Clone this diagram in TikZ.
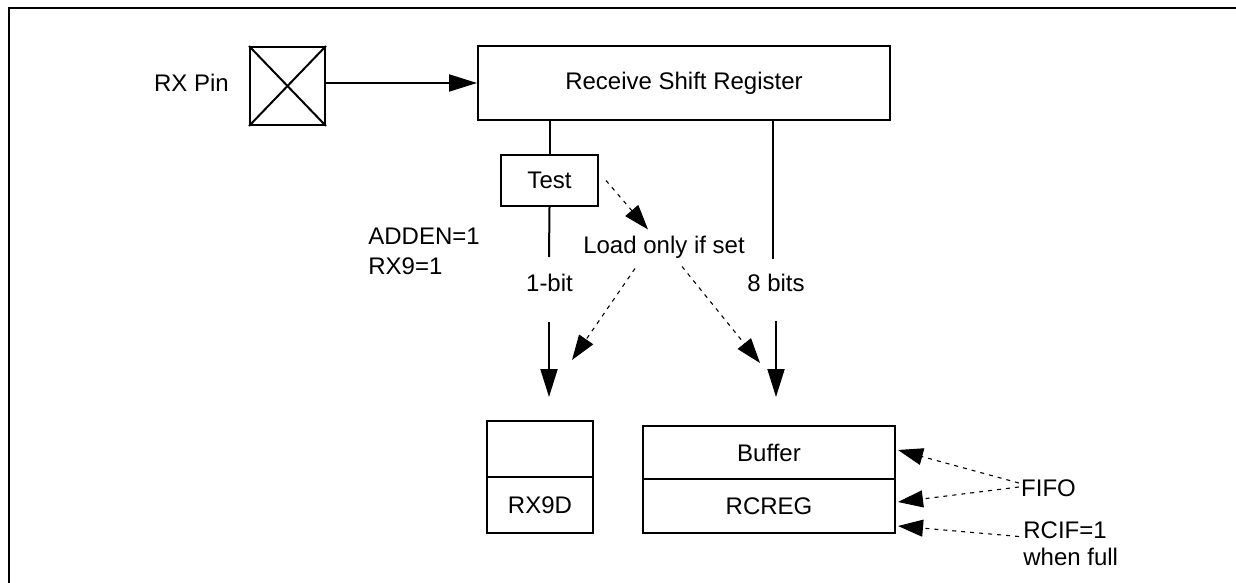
\documentclass[tikz,border=0pt]{standalone}
\usepackage{fontspec}
\setmainfont{Liberation Sans}
\usetikzlibrary{arrows.meta,positioning}

\begin{document}
\begin{tikzpicture}[x=1pt,y=-1pt,>={Triangle[length=28pt,width=17pt]},
            line width=2pt,font=\fontsize{24}{30}\selectfont,
            regbox/.style={draw,inner sep=0pt,minimum width=#1},
            dotarrow/.style={->,>={Triangle[length=25pt,width=17pt]},line width=1.1pt,
                dash pattern=on 4pt off 5pt}]
            \useasboundingbox (0,0) rectangle (1236,583);
            % Frame (cut at right and bottom)
            \draw[line width=2.4pt] (9,583) -- (9,8) -- (1236,8);

            % Define the blocks as nodes
            \node[regbox=75pt,minimum height=78pt] (pin) at (287.5,86) {};
            \draw (pin.north west) -- (pin.south east) (pin.north east) -- (pin.south west);
            \node (pinlabel) at (191.5,83) {RX Pin};
            \node[regbox=412pt,minimum height=74pt] (rsr) at (684,83) {Receive Shift Register};
            \node[regbox=97pt,minimum height=51pt] (test) at (549.5,180.5) {Test};

            \node[regbox=106pt,minimum height=56pt] (rxtop) at (540,449) {};
            \node[regbox=106pt,minimum height=56pt] (rxnined) at (540,505) {RX9D};
            \node[regbox=252pt,minimum height=53pt] (buffer) at (769,452.5) {Buffer};
            \node[regbox=252pt,minimum height=54pt] (rcreg) at (769,506) {RCREG};

            % Labels
            \node[align=left,anchor=west] (adden) at (364,251) {ADDEN=1\\RX9=1};
            \node (onebit) at (549.5,283) {1-bit};
            \node (eightbits) at (776,283) {8 bits};
            \node (load) at (664,247) {Load only if set};
            \node (fifo) at (1048.5,488) {FIFO};
            \node[align=left,anchor=west,font=\fontsize{24}{27}\selectfont] (rcif) at (1019,543.5) {RCIF=1\\when full};

            \coordinate (onebitend) at (549,257);
            \coordinate (eightend) at (773,259);
            \coordinate (onebitstart) at (549,322);
            \coordinate (eightstart) at (776,321);

            % Connect the blocks with lines and arrows
            \draw[->] (pin.east |- rsr.west) -- (rsr.west);
            \draw (test.north) -- (test.north |- rsr.south);
            \draw (test.south) -- (onebitend);
            \draw (eightend) -- (eightend |- rsr.south);
            \draw[->,shorten >=23pt] (onebitstart) -- (onebitstart |- rxtop.north);
            \draw[->,shorten >=28pt] (eightstart) -- (eightstart |- buffer.north);

            \draw[dotarrow] ([xshift=7pt]test.east) -- ([xshift=-16pt,yshift=2pt]load.north);
            \draw[dotarrow] ([xshift=-29pt,yshift=-6pt]load.south) -- (572,360);
            \draw[dotarrow] ([xshift=18pt,yshift=-4pt]load.south) -- (760,363);

            \draw[dotarrow] ([xshift=2pt,yshift=5pt]fifo.west) -- ([xshift=2pt,yshift=2.5pt]buffer.east);
            \draw[dotarrow] ([xshift=2pt,yshift=1pt]fifo.west) -- ([xshift=2pt,yshift=4pt]rcreg.east);
            \draw[dotarrow] ([yshift=7pt]rcif.west) -- ([xshift=2pt,yshift=-20pt]rcreg.east);
\end{tikzpicture}
\end{document}
